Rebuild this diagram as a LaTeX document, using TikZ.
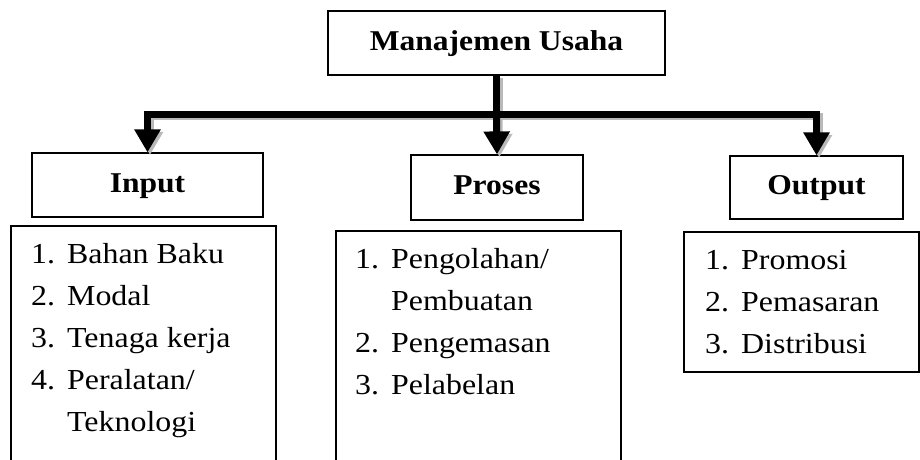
\documentclass[tikz,border=0pt]{standalone}
\usepackage{fontspec}
\setmainfont{Liberation Serif}[FakeStretch=1.1]
\usetikzlibrary{arrows.meta}

\tikzset{
  headbox/.style = {draw, line width=1.2pt, inner sep=0pt,
    text height=21pt, text depth=7pt,
    font=\fontsize{28.7}{34}\selectfont\bfseries},
  listtext/.style = {anchor=north west, inner xsep=20pt, inner ysep=8pt,
    align=left, font=\fontsize{29}{42}\selectfont},
  frame/.style = {draw, line width=1.2pt},
  link/.style = {line width=7pt, line join=miter,
    -{Triangle[width=25pt,length=23pt]}},
  linkshade/.style = {link, draw=gray!55,
    transform canvas={shift={(2.5,2.5)}}}
}
\newcommand{\itemlist}[1]{\begin{tabular}{@{}p{36pt}@{}l@{}}#1\end{tabular}}

\begin{document}
\begin{tikzpicture}[x=1pt, y=-1pt]
  \clip (0,0) rectangle (920,459);
  \fill[white] (0,0) rectangle (920,459);

  % heads
  \node[headbox, minimum width=337pt, minimum height=64pt] (usaha) at (496.5,43) {Manajemen Usaha};
  \node[headbox, minimum width=231pt, minimum height=64pt] (input) at (147.5,185) {Input};
  \node[headbox, minimum width=172pt, minimum height=65pt] (proses) at (497,187.5) {Proses};
  \node[headbox, minimum width=173pt, minimum height=63pt] (output) at (816.5,187.5) {Output};

  % lists
  \node[listtext] (inlist) at (11,226)
    {\itemlist{1. & Bahan Baku\\ 2. & Modal\\ 3. & Tenaga kerja\\ 4. & Peralatan/\\ & Teknologi}};
  \node[listtext, inner xsep=19pt] (proslist) at (336,231)
    {\itemlist{1. & Pengolahan/\\ & Pembuatan\\ 2. & Pengemasan\\ 3. & Pelabelan}};
  \node[listtext, inner xsep=21pt] (outlist) at (684,232)
    {\itemlist{1. & Promosi\\ 2. & Pemasaran\\ 3. & Distribusi}};
  \draw[frame] (inlist.north west) rectangle +(265,300);
  \draw[frame] (proslist.north west) rectangle +(285,300);
  \draw[frame] (outlist.north west) rectangle +(235,140);

  % connectors
  \coordinate (bar) at (usaha.south |- 0,114);
  \foreach \st in {linkshade, link} {
    \draw[\st] (usaha.south) -- (bar) -| (input.north);
    \draw[\st] (bar) -| (output.north);
    \draw[\st] (bar) -- (proses.north);
  }
\end{tikzpicture}
\end{document}
